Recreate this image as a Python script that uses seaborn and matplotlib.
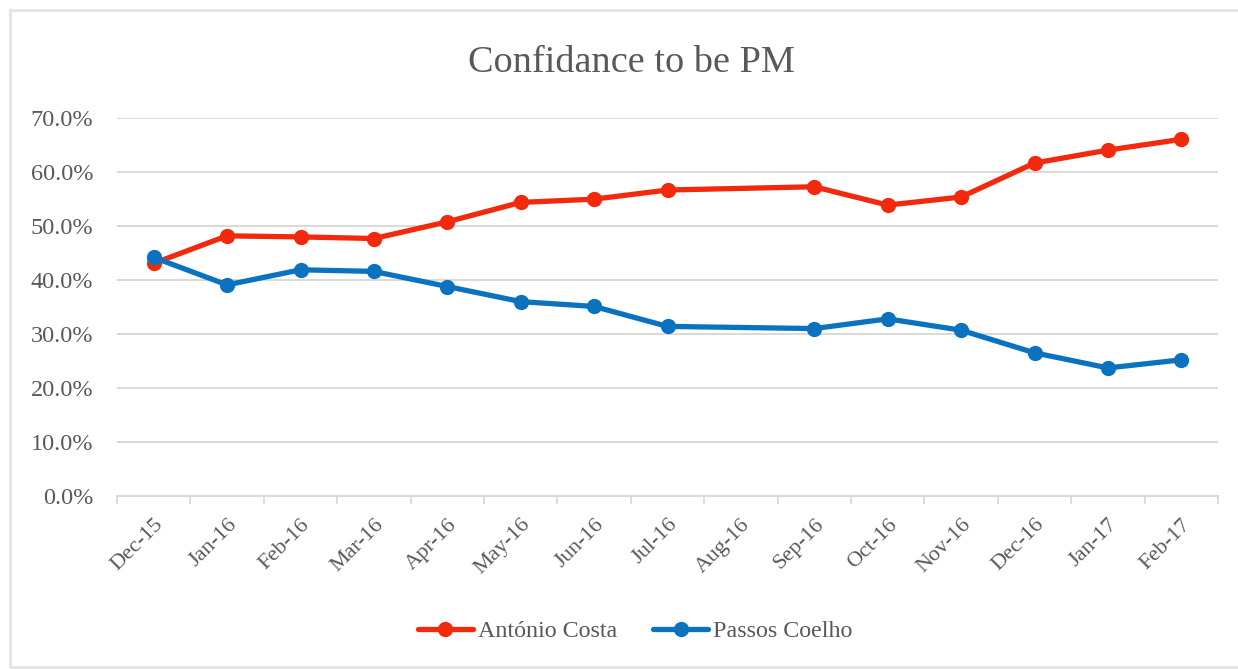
import numpy as np
import pandas as pd
import matplotlib
matplotlib.use("Agg")
import matplotlib.pyplot as plt
import seaborn as sns
from matplotlib.patches import Rectangle
from matplotlib.ticker import FixedLocator, FuncFormatter

# Monthly poll: confidence that each leader would make a good PM (%)
months = ["Dec-15", "Jan-16", "Feb-16", "Mar-16", "Apr-16", "May-16", "Jun-16",
          "Jul-16", "Aug-16", "Sep-16", "Oct-16", "Nov-16", "Dec-16", "Jan-17", "Feb-17"]
antonio_costa = [43.1, 48.2, 48.0, 47.7, 50.8, 54.4, 55.0,
                 56.7, np.nan, 57.3, 53.9, 55.4, 61.7, 64.1, 66.1]
passos_coelho = [44.2, 39.1, 41.9, 41.6, 38.8, 36.0, 35.1,
                 31.4, np.nan, 31.0, 32.8, 30.7, 26.5, 23.7, 25.2]
series_names = ["António Costa", "Passos Coelho"]
y_ticks = [0, 10, 20, 30, 40, 50, 60, 70]

colors = {"António Costa": "#F2290C", "Passos Coelho": "#0B72C0"}
text_gray = "#595959"
grid_gray = "#D9D9D9"
serif = ["Liberation Serif", "DejaVu Serif"]

df = pd.DataFrame({
    "pos": list(range(len(months))) * 2,
    "value": antonio_costa + passos_coelho,
    "series": [series_names[0]] * len(months) + [series_names[1]] * len(months),
}).dropna()

sns.set_theme(style="white")
plt.rcParams["font.family"] = serif

W, H = 1238, 669
fig = plt.figure(figsize=(W / 100, H / 100), dpi=100)
fig.patch.set_facecolor("white")

# chart frame (open on the right)
fig.patches.append(Rectangle((10 / W, 2 / H), 1.2, (H - 12) / H, transform=fig.transFigure,
                             fill=False, edgecolor="#E3E3E3", linewidth=2.0, zorder=0))

ax = fig.add_axes([117 / W, 1 - 495.7 / H, (1218 - 117) / W, (495.7 - 118.3) / H])
sns.lineplot(data=df, x="pos", y="value", hue="series", hue_order=series_names,
             palette=colors, marker="o", markersize=11, markeredgewidth=0,
             linewidth=3.8, ax=ax, legend=False, zorder=3)

ax.set_xlim(-0.5, len(months) - 0.5)
ax.set_ylim(0, 70)
ax.set_xlabel("")
ax.set_ylabel("")

ax.set_yticks(y_ticks)
ax.yaxis.set_major_formatter(FuncFormatter(lambda v, _: f"{v:.1f}%"))
ax.tick_params(axis="y", length=0, pad=17, labelsize=17.5, labelcolor=text_gray)
ax.yaxis.grid(True, color=grid_gray, linewidth=1.4)
ax.set_axisbelow(True)

ax.set_xticks(range(len(months)))
ax.set_xticklabels(months, rotation=45, ha="right", rotation_mode="anchor")
ax.xaxis.set_minor_locator(FixedLocator(np.arange(-0.5, len(months), 1.0)))
ax.tick_params(axis="x", which="major", length=0, pad=14, labelsize=16, labelcolor=text_gray)
ax.tick_params(axis="x", which="minor", length=6, width=1.3, color=grid_gray, bottom=True)

for side in ["top", "right", "left"]:
    ax.spines[side].set_visible(False)
ax.spines["bottom"].set_color(grid_gray)
ax.spines["bottom"].set_linewidth(1.4)

fig.text(631 / W, 1 - 63 / H, "Confidance to be PM", ha="center", va="center",
         fontsize=27.5, color=text_gray)

handles = [plt.Line2D([], [], color=colors[n], linewidth=3.8, marker="o",
                      markersize=11, markeredgewidth=0) for n in series_names]
fig.legend(handles, series_names, loc="center", bbox_to_anchor=(635 / W, 1 - 631 / H),
           ncol=2, frameon=False, fontsize=17.3, labelcolor=text_gray, numpoints=1,
           handlelength=2.3, handletextpad=0.2, columnspacing=1.5)

fig.savefig("out.png", dpi=100, facecolor="white")
